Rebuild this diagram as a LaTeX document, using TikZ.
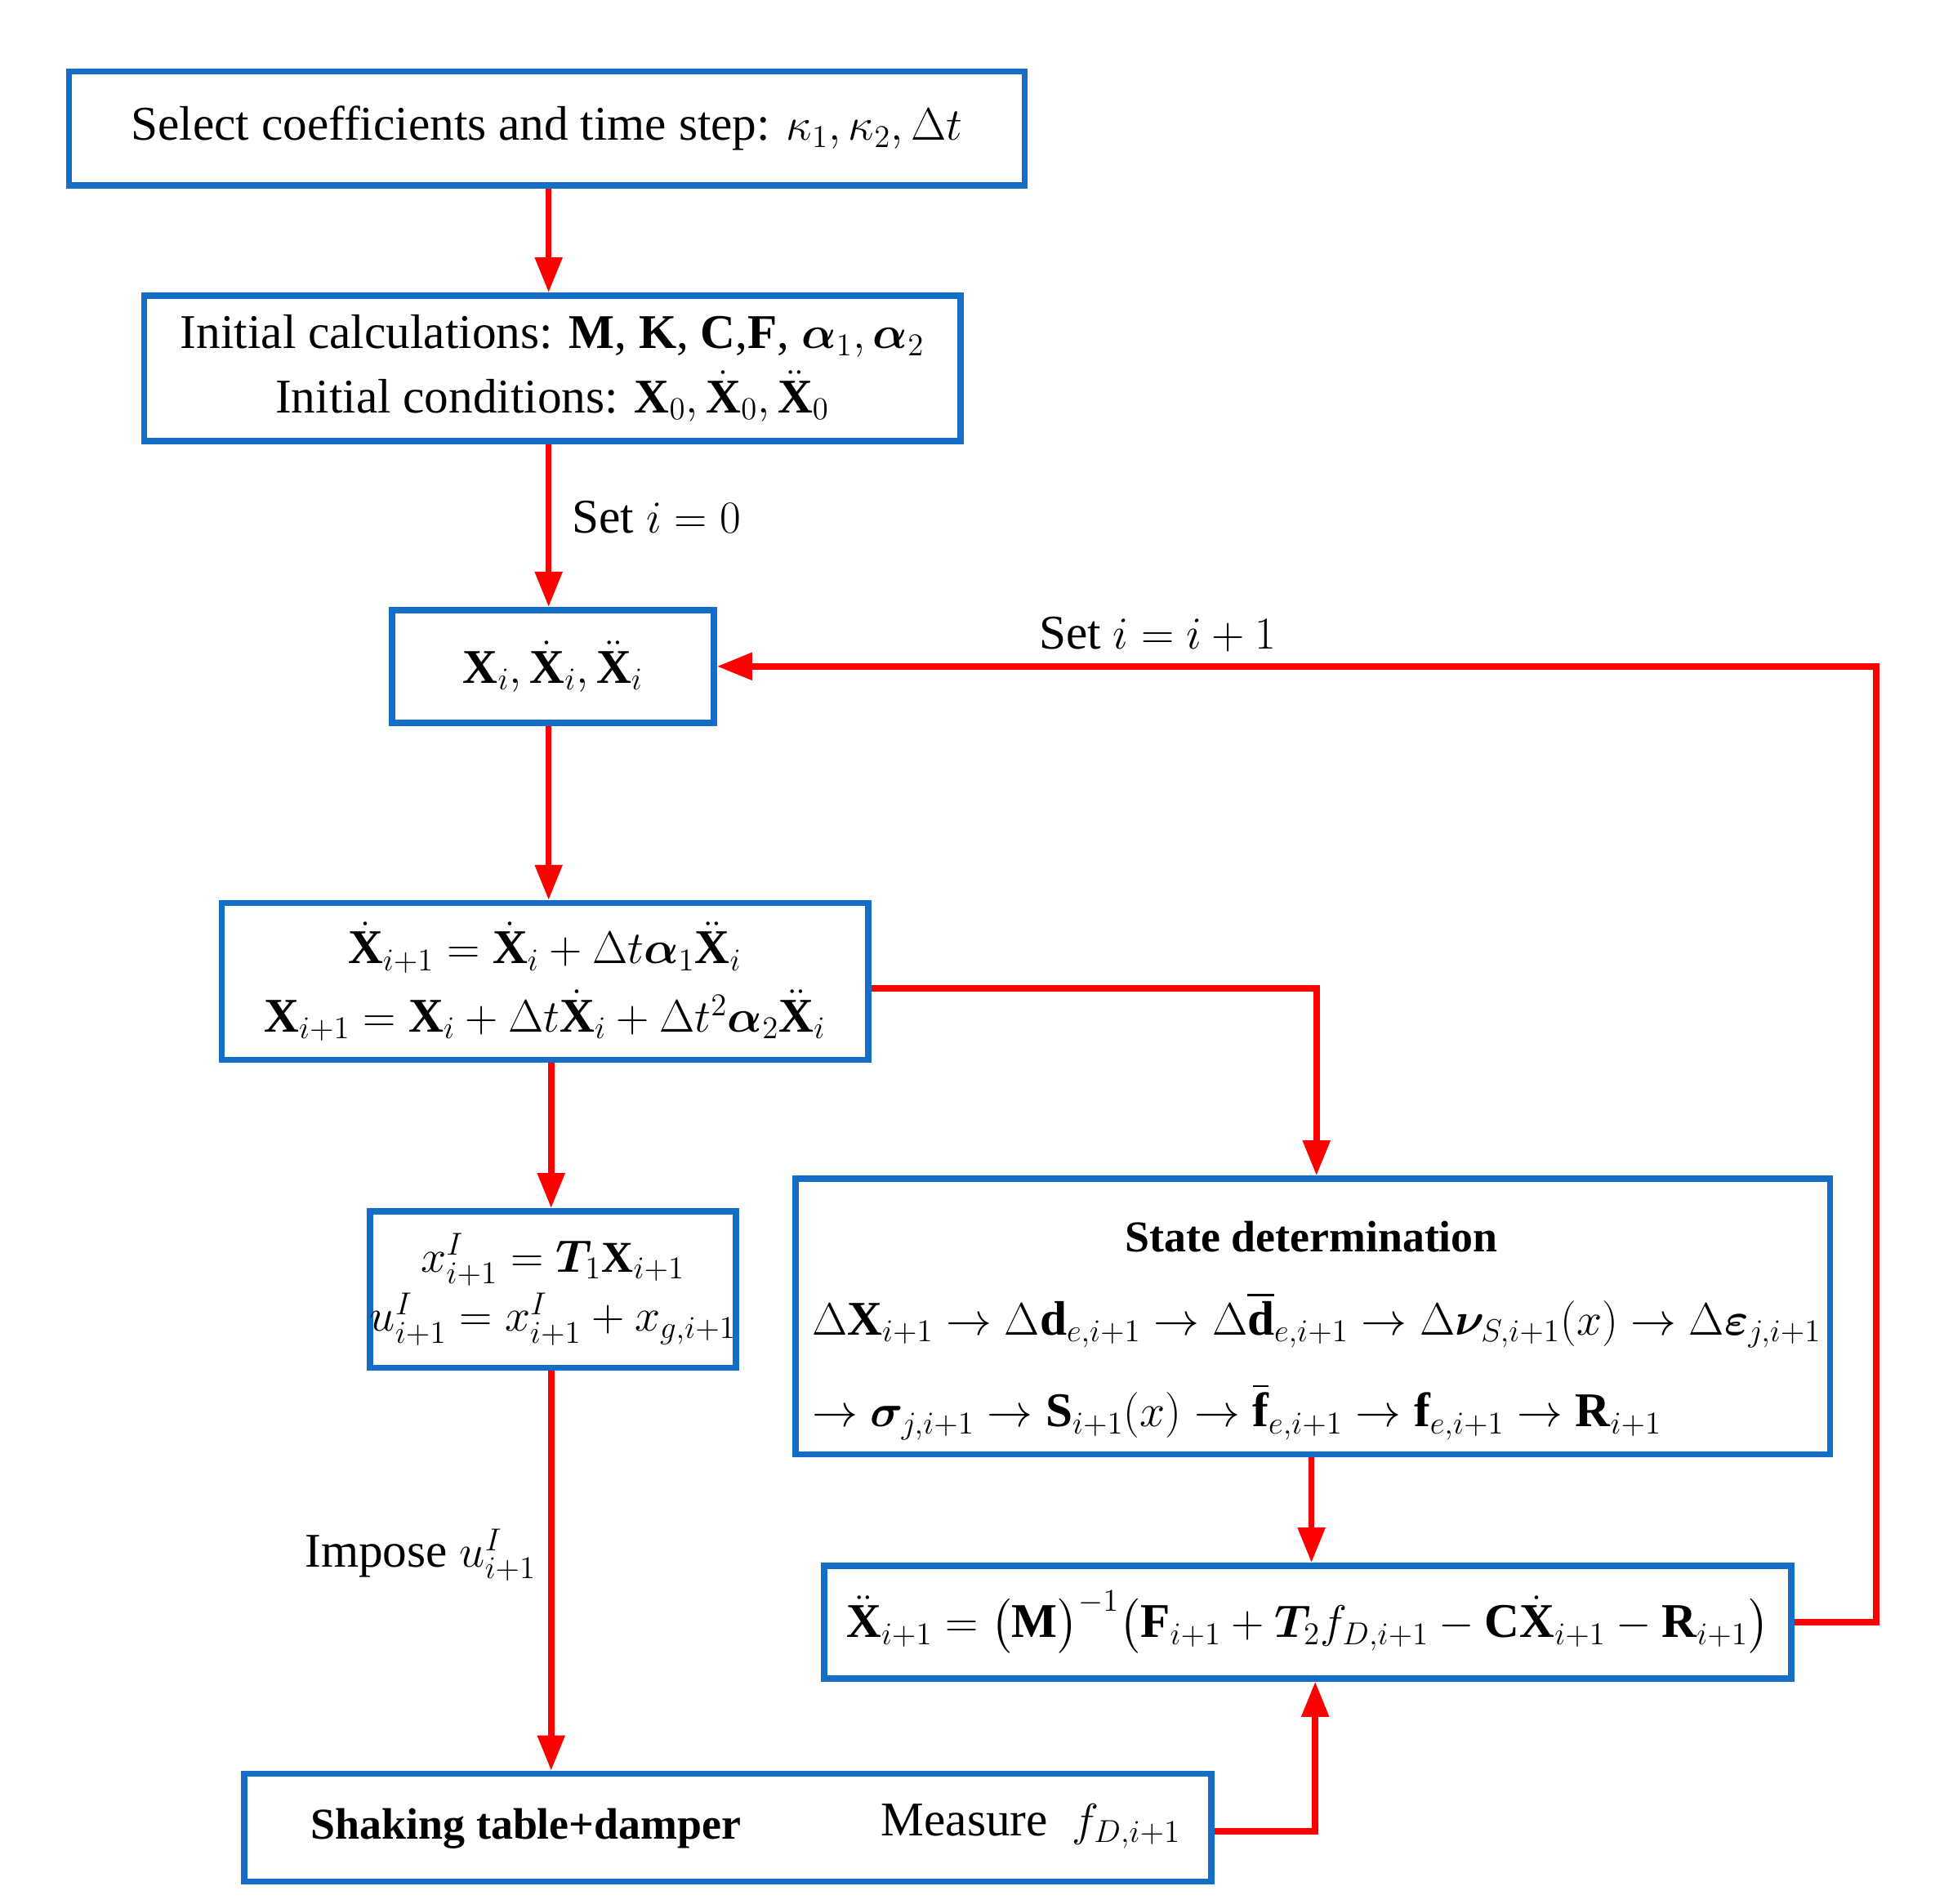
\documentclass[tikz,border=0pt]{standalone}
\usepackage{fontspec}
\setmainfont{Liberation Serif}
\usepackage{amsmath,bm}
\usetikzlibrary{arrows.meta}
\begin{document}
\begin{tikzpicture}[x=0.02cm,y=-0.02cm,
  box/.style={draw=bx,line width=2.8pt,inner sep=0pt,font=\fontsize{22}{29}\selectfont},
  arr/.style={draw=red,line width=2.8pt,-{Triangle[length=16pt,width=12pt]}},
  lbl/.style={font=\fontsize{22}{27}\selectfont}]
\definecolor{bx}{RGB}{20,110,200}
\useasboundingbox (0,0) rectangle (1552,1520);
\node[box,minimum width=763*0.02cm,minimum height=91*0.02cm] (b1) at (436.5,102.5) {Select coefficients and time step: $\kappa_1,\kappa_2,\Delta t$};
\node[box,minimum width=652*0.02cm,minimum height=116*0.02cm,align=center] (b2) at (441,294) {Initial calculations: $\mathbf{M}$, $\mathbf{K}$, $\mathbf{C}$,$\mathbf{F}$, $\bm{\alpha}_1,\bm{\alpha}_2$\\ Initial conditions: $\mathbf{X}_0,\dot{\mathbf{X}}_0,\ddot{\mathbf{X}}_0$};
\node[box,minimum width=257*0.02cm,minimum height=90*0.02cm] (b3) at (441.5,532) {$\mathbf{X}_i,\dot{\mathbf{X}}_i,\ddot{\mathbf{X}}_i$};
\node[box,minimum width=516*0.02cm,minimum height=125*0.02cm,align=center] (b4) at (435,783.5) {$\dot{\mathbf{X}}_{i+1}=\dot{\mathbf{X}}_i+\Delta t\bm{\alpha}_1\ddot{\mathbf{X}}_i$\\[2pt] $\mathbf{X}_{i+1}=\mathbf{X}_i+\Delta t\dot{\mathbf{X}}_i+\Delta t^2\bm{\alpha}_2\ddot{\mathbf{X}}_i$};
\node[box,minimum width=291*0.02cm,minimum height=125*0.02cm,align=center,font=\fontsize{20}{27}\selectfont] (b5) at (441.5,1029.5) {$x^I_{i+1}=\bm{T}_1\mathbf{X}_{i+1}$\\ $u^I_{i+1}=x^I_{i+1}+x_{g,i+1}$};
\node[box,minimum width=826*0.02cm,minimum height=220*0.02cm] (b6) at (1048,1051) {};
\node[lbl,font=\fontsize{20}{25}\selectfont\bfseries] (t6) at (1047,987) {State determination};
\node[lbl,anchor=west,inner sep=0pt] (l61) at (648,1054) {$\Delta\mathbf{X}_{i+1}\rightarrow\Delta\mathbf{d}_{e,i+1}\rightarrow\Delta\overline{\mathbf{d}}_{e,i+1}\rightarrow\Delta\bm{\nu}_{S,i+1}(x)\rightarrow\Delta\bm{\varepsilon}_{j,i+1}$};
\node[lbl,anchor=west,inner sep=0pt] (l62) at (648,1127) {$\rightarrow\bm{\sigma}_{j,i+1}\rightarrow\mathbf{S}_{i+1}(x)\rightarrow\overline{\mathbf{f}}_{e,i+1}\rightarrow\mathbf{f}_{e,i+1}\rightarrow\mathbf{R}_{i+1}$};
\node[box,minimum width=772*0.02cm,minimum height=90*0.02cm] (b7) at (1044,1295) {$\ddot{\mathbf{X}}_{i+1}=\bigl(\mathbf{M}\bigr)^{-1}\bigl(\mathbf{F}_{i+1}+\bm{T}_2f_{D,i+1}-\mathbf{C}\dot{\mathbf{X}}_{i+1}-\mathbf{R}_{i+1}\bigr)$};
\node[box,minimum width=772*0.02cm,minimum height=86*0.02cm] (b8) at (581,1459) {};
\node[lbl,font=\fontsize{20}{25}\selectfont\bfseries] (t8a) at (420,1460) {Shaking table+damper};
\node[lbl] (t8b) at (823,1458) {Measure \ $f_{D,i+1}$};
\coordinate (c4) at (1051,789);
\coordinate (c7) at (1498,1295);
\coordinate (c7t) at (1498,532);
\coordinate (c8) at (1050,1462);
\draw[arr] (b1.south -| 438,0) -- (b2.north -| 438,0);
\draw[arr] (b2.south -| 438,0) -- node[lbl,right,pos=0.45,xshift=6pt]{Set $i=0$} (b3.north -| 438,0);
\draw[arr] (b3.south -| 438,0) -- (b4.north -| 438,0);
\draw[arr] (b4.south -| 440,0) -- (b5.north -| 440,0);
\draw[arr] (b4.east |- c4) -- (c4) -- (b6.north -| c4);
\draw[arr] (b6.south -| 1047,0) -- (b7.north -| 1047,0);
\draw[arr] (b5.south -| 440,0) -- node[lbl,left,pos=0.46,xshift=-2pt]{Impose $u^I_{i+1}$} (b8.north -| 440,0);
\draw[arr] (b8.east |- c8) -- (c8) -- (b7.south -| c8);
\draw[arr] (b7.east |- c7) -- (c7) -- (c7t) -- node[lbl,above,pos=0.62,yshift=2pt]{Set $i=i+1$} (b3.east |- c7t);
\end{tikzpicture}
\end{document}
